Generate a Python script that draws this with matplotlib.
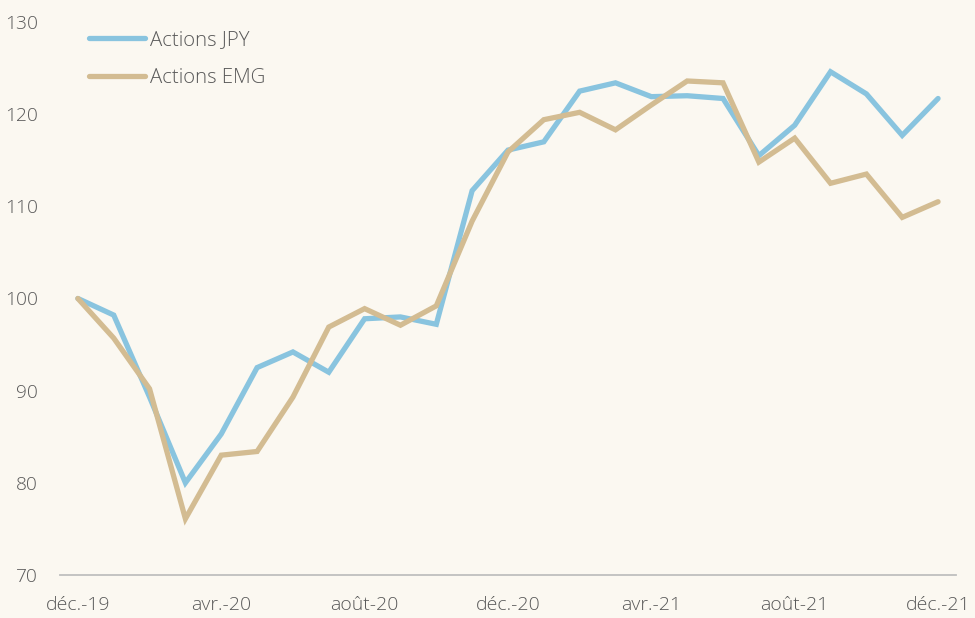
import matplotlib.pyplot as plt

# monthly, déc.-19 .. déc.-21
MONTHS = ["déc.-19", "janv.-20", "févr.-20", "mars-20", "avr.-20", "mai-20", "juin-20",
          "juil.-20", "août-20", "sept.-20", "oct.-20", "nov.-20", "déc.-20",
          "janv.-21", "févr.-21", "mars-21", "avr.-21", "mai-21", "juin-21",
          "juil.-21", "août-21", "sept.-21", "oct.-21", "nov.-21", "déc.-21"]
JPY = [100.0, 98.2, 89.3, 80.0, 85.3, 92.5, 94.2, 92.0, 97.8, 98.0, 97.2, 111.7, 116.1,
       117.0, 122.5, 123.4, 121.9, 122.0, 121.7, 115.5, 118.8, 124.6, 122.2, 117.7, 121.7]
EMG = [100.0, 95.7, 90.2, 76.1, 83.0, 83.4, 89.3, 96.9, 98.9, 97.1, 99.2, 108.4, 115.9,
       119.4, 120.2, 118.3, 121.0, 123.6, 123.4, 114.8, 117.4, 112.5, 113.5, 108.8, 110.5]
SERIES = ["Actions JPY", "Actions EMG"]
YTICKS = [70, 80, 90, 100, 110, 120, 130]

BG = "#FBF8F1"
COLORS = {"Actions JPY": "#89C4DF", "Actions EMG": "#D3BC92"}
TEXT = "#595959"

plt.rcParams["font.family"] = ["Open Sans", "DejaVu Sans"]

fig = plt.figure(figsize=(9.75, 6.18), dpi=100, facecolor=BG)
ax = fig.add_axes([0.0615, 0.0696, 0.919, 0.8948], facecolor=BG)

x = list(range(len(MONTHS)))
for name, vals in zip(SERIES, [JPY, EMG]):
    ax.plot(x, vals, color=COLORS[name], lw=3.8, solid_joinstyle="miter",
            solid_capstyle="round", label=name)

ax.set_xlim(-0.5, len(MONTHS) - 0.5)
ax.set_ylim(70, 130)
ax.set_yticks(YTICKS)
ax.set_xticks(x[::4])
ax.set_xticklabels(MONTHS[::4])

for s in ["left", "right", "top"]:
    ax.spines[s].set_visible(False)
ax.spines["bottom"].set_color("#BFBFBF")
ax.spines["bottom"].set_linewidth(1.3)

ax.tick_params(axis="y", length=0, pad=16, labelsize=13.8, labelcolor=TEXT)
ax.tick_params(axis="x", length=0, pad=15, labelsize=14, labelcolor=TEXT)
for lab in ax.get_xticklabels() + ax.get_yticklabels():
    lab.set_fontweight("light")

leg = ax.legend(loc="upper left", bbox_to_anchor=(0.012, 1.019), frameon=False,
                fontsize=14.7, handlelength=2.75, handletextpad=0.25, labelspacing=0.9)
for t in leg.get_texts():
    t.set_color(TEXT)
    t.set_fontweight("light")

fig.savefig("out.png", dpi=100, facecolor=BG)
